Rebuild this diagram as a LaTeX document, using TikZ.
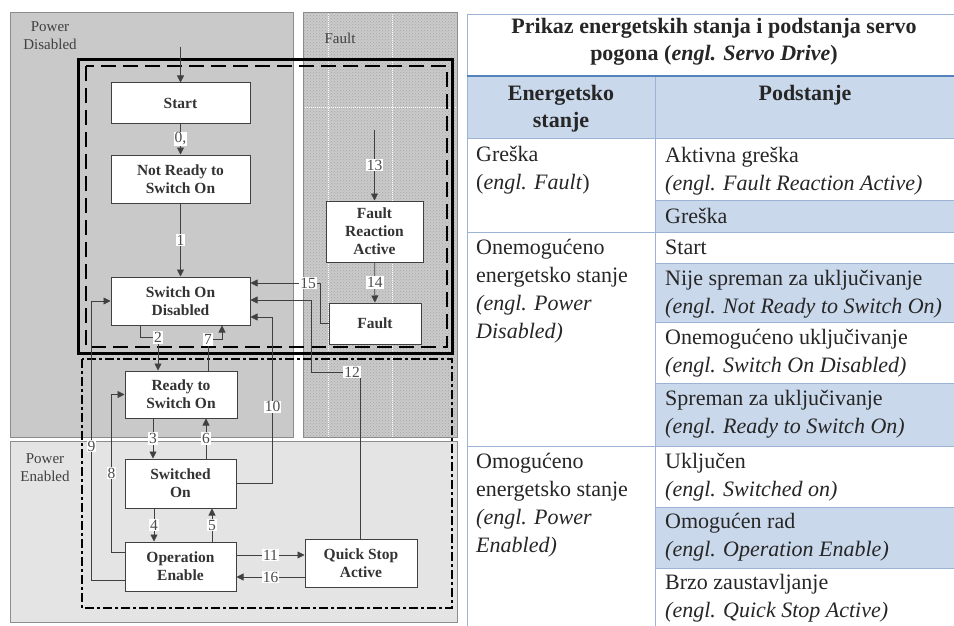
\documentclass[tikz,border=0pt]{standalone}
\usepackage{fontspec}
\setmainfont{Liberation Serif}
\usetikzlibrary{arrows.meta,patterns}
\definecolor{pdgray}{HTML}{C9C9C9}
\definecolor{pegray}{HTML}{E4E4E4}
\definecolor{fgray}{HTML}{CACACA}
\definecolor{tblue}{HTML}{CAD8EB}
\definecolor{tline}{HTML}{9DB3D5}
\definecolor{tthick}{HTML}{5581BC}
\begin{document}
\begin{tikzpicture}[x=1pt,y=-1pt,
  state/.style={draw=black!75, line width=1pt, fill=white, align=center,
    font=\fontsize{15.5}{18}\selectfont\bfseries, text=black!80, inner sep=0pt},
  arr/.style={draw=black!75, line width=0.8pt, -{Triangle[length=7pt,width=7pt]}},
  lbl/.style={fill=white, inner sep=1pt, font=\fontsize{15.5}{15.5}\selectfont, text=black!70},
  region/.style={font=\fontsize{15}{18}\selectfont, text=black!75, align=center},
  cell/.style={anchor=west, font=\fontsize{22}{28}\selectfont, inner sep=0pt, align=left, text=black!85},
  bound/.style={line width=2.5pt, black},
]
\useasboundingbox (0,0) rectangle (954,626);
\fill[white] (0,0) rectangle (954,626);

% ---------- regions ----------
\draw[black!45, fill=pdgray] (10,12) rectangle (293,437);
\fill[fgray] (303,12) rectangle (457,437);
\fill[pattern=crosshatch dots, pattern color=black!35] (303,12) rectangle (457,437);
\draw[white, densely dotted, line width=1pt] (328,12) -- (328,437) (392,12) -- (392,437) (303,108) -- (457,108);
\draw[black!45] (303,12) rectangle (457,437);
\draw[black!45, fill=pegray] (10,441) rectangle (457,622);

\node[region] (lpd) at (50,36) {Power\\Disabled};
\node[region] (lf) at (340,38) {Fault};
\node[region] (lpe) at (45,468) {Power\\Enabled};

% ---------- boundaries ----------
\draw[line width=3pt, black] (78,60) rectangle (452,353);
\draw[bound, dash pattern=on 15pt off 7pt] (86,66) rectangle (447,347);
\draw[bound, dash pattern=on 9pt off 3pt on 3pt off 3pt] (82,359) rectangle (452,608);

% ---------- states ----------
\node[state, minimum width=139pt, minimum height=40pt] (start) at (180.5,103) {Start};
\node[state, minimum width=139pt, minimum height=48pt] (notready) at (180.5,179) {Not Ready to\\Switch On};
\node[state, minimum width=139pt, minimum height=48pt] (sod) at (180.5,301) {Switch On\\Disabled};
\node[state, minimum width=112pt, minimum height=47pt] (ready) at (181,394.5) {Ready to\\Switch On};
\node[state, minimum width=111pt, minimum height=49pt] (switched) at (180.5,483.5) {Switched\\On};
\node[state, minimum width=111pt, minimum height=49pt] (openable) at (180.5,566.5) {Operation\\Enable};
\node[state, minimum width=112pt, minimum height=48pt] (qsa) at (361,563) {Quick Stop\\Active};
\node[state, minimum width=97pt, minimum height=61pt] (fra) at (374.5,231.5) {Fault\\Reaction\\Active};
\node[state, minimum width=92pt, minimum height=41pt] (fault) at (375,323.5) {Fault};

% ---------- transitions ----------
\coordinate (entry) at (180.5,47);
\coordinate (f13) at (374.5,130);
\draw[arr] (entry) -- (start);
\draw[arr] (start) -- node[lbl]{0,} (notready);
\draw[arr] (notready) -- node[lbl]{1} (sod);
\draw[arr] ([xshift=-40.5pt]sod.south) |- ([xshift=-23pt,yshift=33pt]ready.north) node[lbl]{2} -- ([xshift=-23pt]ready.north);
\draw[arr] ([xshift=27pt]ready.north) -- ++(0,-31) node[lbl]{7} -| ([xshift=41.5pt]sod.south);
\draw[arr] ([xshift=-28pt]ready.south) -- node[lbl]{3} ([xshift=-27.5pt]switched.north);
\draw[arr] ([xshift=25.5pt]switched.north) -- node[lbl]{6} ([xshift=25pt]ready.south);
\draw[arr] ([xshift=-26.5pt]switched.south) -- node[lbl]{4} ([xshift=-26.5pt]openable.north);
\draw[arr] ([xshift=31.5pt]openable.north) -- node[lbl]{5} ([xshift=31.5pt]switched.south);
\draw[arr] ([yshift=11.5pt]openable.east) -- node[lbl]{11} ([yshift=8pt]qsa.west);
\draw[arr] ([yshift=-14pt]qsa.west) -- node[lbl]{16} ([yshift=-10.5pt]openable.east);
\draw[arr] ([yshift=14.5pt]openable.west) -| node[lbl, pos=0.75]{8} ([xshift=-13pt]ready.west) -- (ready.west);
\draw[arr] ([yshift=-13.5pt]openable.west) -| node[lbl, pos=0.74]{9} ([xshift=-19pt]sod.west) -- (sod.west);
\draw[arr] (switched.east) -| node[lbl, pos=0.73]{10} ([xshift=22pt,yshift=-16pt]sod.east) -- ([yshift=-16pt]sod.east);
\draw[arr] ([xshift=-1pt]qsa.north) |- node[lbl, pos=0.58]{12} (311,372) -- (311,300) -- ([yshift=1pt]sod.east);
\draw[arr] (fault.west) -| (320,283) -- node[lbl, pos=0.17]{15} ([yshift=18pt]sod.east);
\draw[arr] (f13) -- node[lbl]{13} (fra);
\draw[arr] (fra) -- node[lbl]{14} (fault);

% ---------- table ----------
\fill[white] (467,14) rectangle (954,626);
\fill[tblue] (467,77) rectangle (954,138);
\fill[tblue] (655,200) rectangle (954,232);
\fill[tblue] (655,263) rectangle (954,322);
\fill[tblue] (655,383) rectangle (954,446);
\fill[tblue] (655,507) rectangle (954,568);
\draw[tline, line width=0.8pt] (467,14) -- (954,14) (467,14) -- (467,626)
  (467,138) -- (954,138) (467,232) -- (954,232) (467,446) -- (954,446)
  (655,200) -- (954,200) (655,263) -- (954,263) (655,322) -- (954,322)
  (655,383) -- (954,383) (655,507) -- (954,507) (655,568) -- (954,568)
  (655,77) -- (655,626);
\draw[tthick, line width=2.5pt] (467,76) -- (954,76);

\node[font=\fontsize{22}{27}\selectfont\bfseries, align=center, text=black!85] (title) at (714,41.5)
  {Prikaz energetskih stanja i podstanja servo\\pogona (\textit{engl. Servo Drive})};
\node[font=\fontsize{22}{27}\selectfont\bfseries, align=center, text=black!85] (h1) at (561,108.5) {Energetsko\\stanje};
\node[font=\fontsize{22}{27}\selectfont\bfseries, align=center, text=black!85] (h2) at (805,95) {Podstanje};

\node[cell] (c1) at (476,170.5) {Greška\\(\textit{engl. Fault})};
\node[cell] (c2) at (476,291) {Onemogućeno\\energetsko stanje\\\textit{(engl. Power}\\\textit{Disabled)}};
\node[cell] (c3) at (476,505.5) {Omogućeno\\energetsko stanje\\\textit{(engl. Power}\\\textit{Enabled)}};

\node[cell] (s1) at (665,171) {Aktivna greška\\\textit{(engl. Fault Reaction Active)}};
\node[cell] (s2) at (665,216) {Greška};
\node[cell] (s3) at (665,247.5) {Start};
\node[cell] (s4) at (665,294) {Nije spreman za uključivanje\\\textit{(engl. Not Ready to Switch On)}};
\node[cell] (s5) at (665,353.5) {Onemogućeno uključivanje\\\textit{(engl. Switch On Disabled)}};
\node[cell] (s6) at (665,414) {Spreman za uključivanje\\\textit{(engl. Ready to Switch On)}};
\node[cell] (s7) at (665,477.5) {Uključen\\\textit{(engl. Switched on)}};
\node[cell] (s8) at (665,537.5) {Omogućen rad\\\textit{(engl. Operation Enable)}};
\node[cell] (s9) at (665,598.5) {Brzo zaustavljanje\\\textit{(engl. Quick Stop Active)}};
\end{tikzpicture}
\end{document}
